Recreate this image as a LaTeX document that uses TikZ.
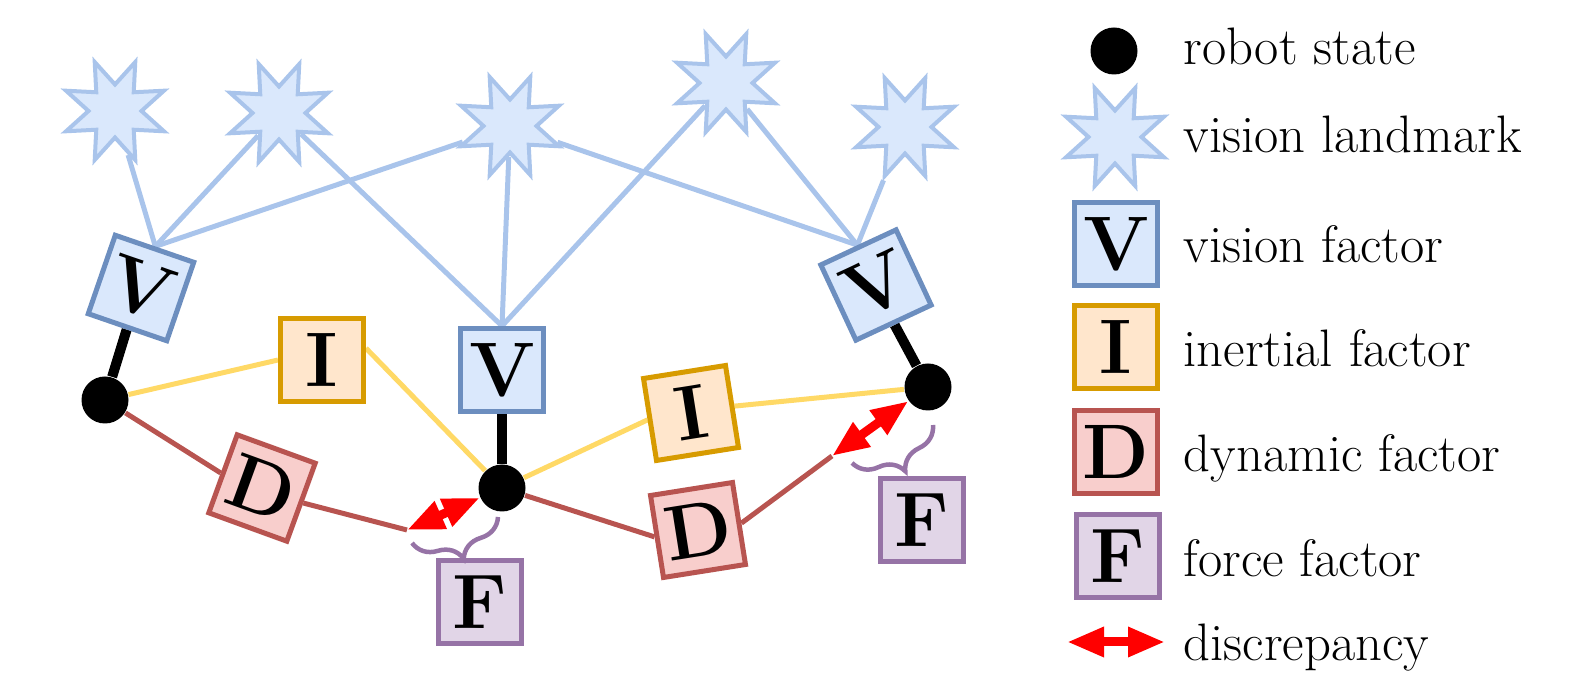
\documentclass[tikz,border=0pt]{standalone}
\usetikzlibrary{shapes.geometric, arrows.meta, backgrounds, decorations.pathreplacing}

\definecolor{visfill}{HTML}{DAE8FC}
\definecolor{visline}{HTML}{6C8EBF}
\definecolor{lmline}{HTML}{A9C4EB}
\definecolor{inefill}{HTML}{FFE6CC}
\definecolor{ineline}{HTML}{D79B00}
\definecolor{inelink}{HTML}{FFD966}
\definecolor{dynfill}{HTML}{F8CECC}
\definecolor{dynline}{HTML}{B85450}
\definecolor{forfill}{HTML}{E1D5E7}
\definecolor{forline}{HTML}{9673A6}

\begin{document}
\begin{tikzpicture}[
        state/.style={circle, fill=black, minimum size=0.47cm, inner sep=0pt},
        landmark/.style={star, star points=8, star point ratio=2, shape border rotate=22.5, draw=lmline, fill=visfill, line width=0.04cm, minimum size=1.06cm, inner sep=0pt},
        factor/.style={rectangle, line width=0.05cm, minimum size=0.83cm, inner sep=0pt, font=\bfseries\fontsize{22}{22}\selectfont},
        vfac/.style={factor, draw=visline, fill=visfill},
        ifac/.style={factor, draw=ineline, fill=inefill},
        dfac/.style={factor, draw=dynline, fill=dynfill},
        ffac/.style={factor, draw=forline, fill=forfill},
        vlink/.style={lmline, line width=0.05cm},
        ilink/.style={inelink, line width=0.05cm},
        dlink/.style={dynline, line width=0.05cm},
        attach/.style={black, line width=0.1cm},
        discrep/.style={{Triangle[length=0.37cm,width=0.28cm]}-{Triangle[length=0.37cm,width=0.28cm]}, red, line width=0.09cm},
        fbrace/.style={decorate, decoration={brace, amplitude=0.3cm}, draw=forline, line width=0.045cm},
        legend/.style={anchor=base west, inner sep=0pt, font=\fontsize{15}{18}\selectfont}
    ]
    \useasboundingbox (0,0) rectangle (15.75,6.78);

    % robot states
    \node[state] (s1) at (1.05,2.78) {};
    \node[state] (s2) at (5.02,1.90) {};
    \node[state] (s3) at (9.28,2.91) {};

    % vision landmarks
    \node[landmark] (L1) at (1.15,5.67) {};
    \node[landmark] (L2) at (2.79,5.65) {};
    \node[landmark] (L3) at (5.10,5.52) {};
    \node[landmark] (L4) at (7.26,5.95) {};
    \node[landmark] (L5) at (9.05,5.51) {};

    % factors
    \node[vfac, rotate=-19] (V1) at (1.41,3.90) {V};
    \node[vfac] (V2) at (5.02,3.08) {V};
    \node[vfac, rotate=25] (V3) at (8.76,3.93) {V};
    \node[ifac] (I1) at (3.22,3.18) {I};
    \node[ifac, rotate=9] (I2) at (6.91,2.65) {I};
    \node[dfac, rotate=-20] (D1) at (2.62,1.90) {D};
    \node[dfac, rotate=9] (D2) at (6.98,1.48) {D};
    \node[ffac] (F1) at (4.80,0.76) {F};
    \node[ffac] (F2) at (9.22,1.58) {F};

    \coordinate (d1end) at (4.07,1.48);
    \coordinate (d2end) at (8.32,2.22);

    \begin{scope}[on background layer]
        % vision links
        \draw[vlink] (L1) -- (V1.north);
        \draw[vlink] (L2) -- (V1.north);
        \draw[vlink] (L3) -- (V1.north);
        \draw[vlink] (L2) -- (V2.north);
        \draw[vlink] (L3) -- (V2.north);
        \draw[vlink] (L4) -- (V2.north);
        \draw[vlink] (L3) -- (V3.north);
        \draw[vlink] (L4) -- (V3.north);
        \draw[vlink] (L5) -- (V3.north);
        % inertial links
        \draw[ilink] (s1) -- (I1.west);
        \draw[ilink] (I1.15) -- (s2);
        \draw[ilink] (s2) -- (I2.west);
        \draw[ilink] (I2.east) -- (s3);
        % dynamic links
        \draw[dlink] (s1) -- (D1.west);
        \draw[dlink] (D1.east) -- (d1end);
        \draw[dlink] (s2) -- (D2.west);
        \draw[dlink] (D2.east) -- (d2end);
        % vision factor to state
        \draw[attach] (V1.south) -- (s1);
        \draw[attach] (V2.south) -- (s2);
        \draw[attach] (V3.south) -- (s3);
    \end{scope}

    % discrepancy and force braces
    \draw[discrep] (d1end) -- (s2);
    \draw[discrep] (d2end) -- (s3);
    \coordinate (b1a) at (4.98,1.61);
    \coordinate (b1b) at (4.12,1.35);
    \coordinate (b2a) at (9.33,2.53);
    \coordinate (b2b) at (8.52,2.15);
    \draw[fbrace] (b1a) -- (b1b);
    \draw[fbrace] (b2a) -- (b2b);

    % legend
    \node[state] (lgstate) at (11.14,6.27) {};
    \node[landmark] (lgland) at (11.15,5.41) {};
    \node[vfac] (lgV) at (11.16,4.34) {V};
    \node[ifac] (lgI) at (11.16,3.31) {I};
    \node[dfac] (lgD) at (11.16,2.26) {D};
    \node[ffac] (lgF) at (11.18,1.22) {F};
    \coordinate (lgarrowL) at (10.67,0.36);
    \coordinate (lgarrowR) at (11.65,0.36);
    \draw[discrep] (lgarrowL) -- (lgarrowR);

    \node[legend] (txstate) at (11.83,6.13) {robot state};
    \node[legend] (txland) at (11.83,5.25) {vision landmark};
    \node[legend] (txV) at (11.83,4.15) {vision factor};
    \node[legend] (txI) at (11.83,3.11) {inertial factor};
    \node[legend] (txD) at (11.83,2.06) {dynamic factor};
    \node[legend] (txF) at (11.83,1.01) {force factor};
    \node[legend] (txdis) at (11.83,0.18) {discrepancy};
\end{tikzpicture}
\end{document}
